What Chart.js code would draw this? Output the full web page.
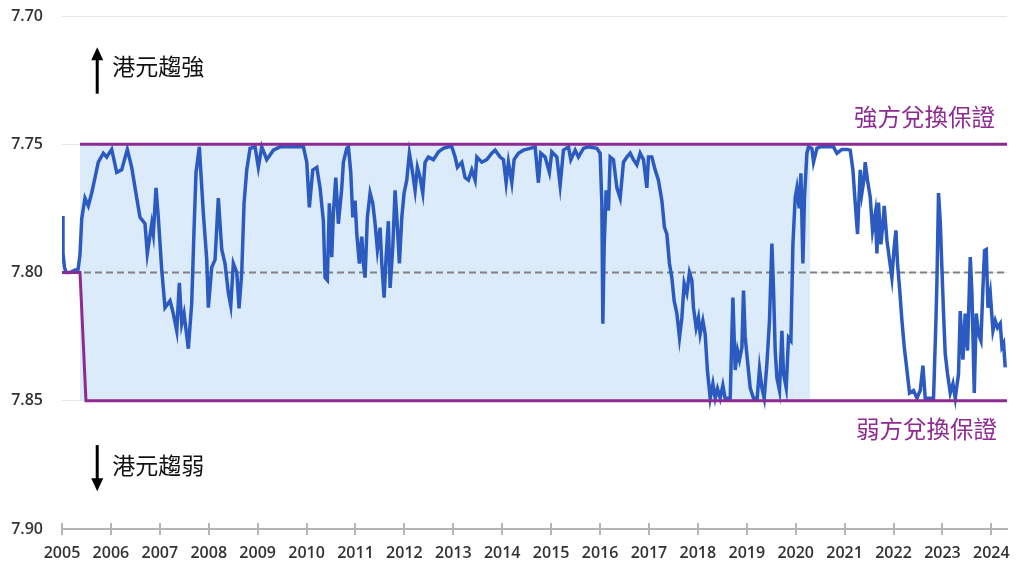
<!DOCTYPE html>
<html lang="zh-Hant">
<head>
<meta charset="utf-8">
<title>港元匯率與兌換保證</title>
<script src="https://cdn.jsdelivr.net/npm/chart.js@4.4.1/dist/chart.umd.min.js"></script>
<style>
    html, body { margin: 0; padding: 0; background: #ffffff; }
    #wrap { position: relative; width: 1016px; height: 570px; }
</style>
</head>
<body>
<div id="wrap"><canvas id="hkd-chart"></canvas></div>
<script>
// USD/HKD spot, [decimal year, rate]
const hkdSpot = [
    [2005.000, 7.778], [2005.020, 7.7926], [2005.051, 7.798], [2005.082, 7.800], [2005.164, 7.800],
    [2005.266, 7.799], [2005.327, 7.799], [2005.368, 7.793], [2005.403, 7.779], [2005.470, 7.771],
    [2005.538, 7.774], [2005.607, 7.769], [2005.675, 7.763], [2005.742, 7.757], [2005.845, 7.7535],
    [2005.914, 7.755], [2006.016, 7.752], [2006.119, 7.761], [2006.221, 7.760], [2006.335, 7.752],
    [2006.425, 7.759], [2006.528, 7.771], [2006.595, 7.7785], [2006.697, 7.781], [2006.744, 7.7926],
    [2006.834, 7.781], [2006.867, 7.785], [2006.922, 7.767], [2006.969, 7.7785], [2007.039, 7.799],
    [2007.106, 7.8137], [2007.209, 7.811], [2007.276, 7.816], [2007.346, 7.8227], [2007.399, 7.804],
    [2007.448, 7.820], [2007.495, 7.816], [2007.583, 7.8297], [2007.652, 7.812], [2007.699, 7.7836],
    [2007.740, 7.761], [2007.808, 7.751], [2007.836, 7.760], [2007.890, 7.777], [2007.959, 7.795],
    [2007.992, 7.8137], [2008.061, 7.798], [2008.129, 7.795], [2008.196, 7.771], [2008.266, 7.791],
    [2008.333, 7.7965], [2008.401, 7.808], [2008.450, 7.813], [2008.503, 7.7965], [2008.573, 7.800],
    [2008.620, 7.814], [2008.675, 7.800], [2008.722, 7.773], [2008.777, 7.760], [2008.845, 7.7516],
    [2008.947, 7.751], [2009.014, 7.759], [2009.084, 7.751], [2009.186, 7.756], [2009.321, 7.7523],
    [2009.458, 7.751], [2009.663, 7.751], [2009.935, 7.751], [2010.004, 7.757], [2010.057, 7.7746],
    [2010.127, 7.760], [2010.209, 7.759], [2010.276, 7.767], [2010.344, 7.780], [2010.378, 7.802],
    [2010.425, 7.803], [2010.466, 7.773], [2010.515, 7.794], [2010.548, 7.777], [2010.597, 7.763],
    [2010.650, 7.781], [2010.720, 7.767], [2010.753, 7.757], [2010.822, 7.7516], [2010.855, 7.751],
    [2010.904, 7.761], [2010.945, 7.7785], [2010.992, 7.772], [2011.027, 7.785], [2011.080, 7.7965],
    [2011.129, 7.786], [2011.162, 7.7965], [2011.196, 7.802], [2011.243, 7.7785], [2011.299, 7.769],
    [2011.354, 7.773], [2011.401, 7.781], [2011.448, 7.791], [2011.503, 7.7825], [2011.538, 7.7965],
    [2011.585, 7.8098], [2011.626, 7.794], [2011.673, 7.780], [2011.708, 7.806], [2011.763, 7.790],
    [2011.810, 7.768], [2011.845, 7.7785], [2011.898, 7.7965], [2011.947, 7.7785], [2011.994, 7.769],
    [2012.049, 7.764], [2012.102, 7.7535], [2012.151, 7.759], [2012.219, 7.768], [2012.266, 7.759],
    [2012.321, 7.763], [2012.376, 7.769], [2012.423, 7.757], [2012.491, 7.755], [2012.593, 7.756],
    [2012.695, 7.753], [2012.798, 7.7516], [2012.900, 7.751], [2012.969, 7.751], [2013.037, 7.755],
    [2013.084, 7.759], [2013.174, 7.757], [2013.241, 7.763], [2013.309, 7.764], [2013.378, 7.760],
    [2013.446, 7.764], [2013.481, 7.755], [2013.583, 7.757], [2013.685, 7.756], [2013.787, 7.7535],
    [2013.855, 7.7523], [2013.957, 7.755], [2014.025, 7.756], [2014.080, 7.765], [2014.127, 7.757],
    [2014.196, 7.765], [2014.243, 7.756], [2014.331, 7.7535], [2014.434, 7.7523], [2014.571, 7.7516],
    [2014.673, 7.751], [2014.740, 7.765], [2014.789, 7.7535], [2014.877, 7.755], [2014.965, 7.761],
    [2015.014, 7.753], [2015.117, 7.755], [2015.184, 7.766], [2015.252, 7.7523], [2015.354, 7.751],
    [2015.403, 7.756], [2015.491, 7.7523], [2015.558, 7.755], [2015.661, 7.7516], [2015.763, 7.751],
    [2015.935, 7.7516], [2016.002, 7.7535], [2016.037, 7.773], [2016.057, 7.820], [2016.084, 7.790],
    [2016.125, 7.768], [2016.172, 7.7758], [2016.207, 7.755], [2016.274, 7.756], [2016.344, 7.767],
    [2016.411, 7.771], [2016.479, 7.757], [2016.548, 7.755], [2016.616, 7.7535], [2016.683, 7.756],
    [2016.753, 7.758], [2016.820, 7.7535], [2016.888, 7.756], [2016.957, 7.767], [2016.990, 7.755],
    [2017.059, 7.755], [2017.127, 7.760], [2017.194, 7.764], [2017.264, 7.772], [2017.317, 7.7824],
    [2017.366, 7.785], [2017.419, 7.7965], [2017.468, 7.802], [2017.515, 7.811], [2017.571, 7.816],
    [2017.624, 7.8254], [2017.673, 7.8176], [2017.720, 7.8043], [2017.775, 7.808], [2017.828, 7.800],
    [2017.877, 7.803], [2017.910, 7.8137], [2017.965, 7.8215], [2018.012, 7.8176], [2018.047, 7.824],
    [2018.102, 7.8188], [2018.149, 7.824], [2018.196, 7.8383], [2018.252, 7.849], [2018.307, 7.8434],
    [2018.354, 7.849], [2018.401, 7.8453], [2018.456, 7.849], [2018.511, 7.844], [2018.558, 7.849],
    [2018.661, 7.849], [2018.716, 7.8098], [2018.763, 7.838], [2018.810, 7.8305], [2018.851, 7.834],
    [2018.900, 7.8293], [2018.933, 7.807], [2018.967, 7.825], [2019.014, 7.8344], [2019.070, 7.845],
    [2019.137, 7.849], [2019.213, 7.849], [2019.260, 7.8375], [2019.309, 7.845], [2019.356, 7.849],
    [2019.411, 7.8356], [2019.464, 7.8188], [2019.513, 7.7887], [2019.546, 7.806], [2019.581, 7.8305],
    [2019.616, 7.841], [2019.669, 7.846], [2019.718, 7.8227], [2019.751, 7.8395], [2019.806, 7.845],
    [2019.853, 7.8254], [2019.902, 7.8266], [2019.943, 7.789], [2019.990, 7.7707], [2020.025, 7.767],
    [2020.072, 7.775], [2020.107, 7.7613], [2020.147, 7.7965], [2020.180, 7.7707], [2020.229, 7.7535],
    [2020.262, 7.751], [2020.331, 7.7516], [2020.364, 7.757], [2020.434, 7.7516], [2020.501, 7.751],
    [2020.638, 7.751], [2020.773, 7.751], [2020.843, 7.7535], [2020.945, 7.752], [2021.047, 7.752],
    [2021.115, 7.7523], [2021.170, 7.760], [2021.217, 7.773], [2021.264, 7.785], [2021.319, 7.760],
    [2021.354, 7.769], [2021.401, 7.763], [2021.421, 7.757], [2021.468, 7.764], [2021.524, 7.7707],
    [2021.571, 7.7836], [2021.626, 7.777], [2021.661, 7.7926], [2021.693, 7.7727], [2021.742, 7.789],
    [2021.783, 7.781], [2021.810, 7.774], [2021.865, 7.7875], [2021.918, 7.795], [2021.967, 7.802],
    [2022.014, 7.790], [2022.049, 7.7836], [2022.082, 7.7965], [2022.123, 7.806], [2022.172, 7.8188],
    [2022.219, 7.829], [2022.274, 7.838], [2022.327, 7.847], [2022.409, 7.846], [2022.479, 7.849],
    [2022.546, 7.846], [2022.601, 7.8363], [2022.648, 7.849], [2022.751, 7.849], [2022.818, 7.849],
    [2022.867, 7.8188], [2022.888, 7.803], [2022.920, 7.769], [2022.955, 7.780], [2022.990, 7.7988],
    [2023.023, 7.816], [2023.057, 7.8317], [2023.104, 7.8395], [2023.160, 7.847], [2023.215, 7.8434],
    [2023.262, 7.849], [2023.329, 7.8395], [2023.364, 7.815], [2023.419, 7.834], [2023.466, 7.816],
    [2023.513, 7.8305], [2023.569, 7.794], [2023.603, 7.808], [2023.651, 7.847], [2023.691, 7.816],
    [2023.738, 7.824], [2023.787, 7.8266], [2023.828, 7.806], [2023.861, 7.7914], [2023.896, 7.791],
    [2023.931, 7.8137], [2023.978, 7.808], [2024.033, 7.8227], [2024.080, 7.8188], [2024.127, 7.8215],
    [2024.182, 7.8199], [2024.217, 7.829], [2024.250, 7.8277], [2024.284, 7.837]
];

// convertibility undertakings
const strongSide = [[2005.368, 7.75], [2024.32, 7.75]];
const weakSide = [[2005.0, 7.80], [2005.368, 7.80], [2005.49, 7.85], [2024.32, 7.85]];
const pegCentre = [[2005.0, 7.80], [2024.32, 7.80]];
// shaded period
const bandTop = [[2005.368, 7.75], [2020.30, 7.75]];
const bandBottom = [[2005.368, 7.85], [2020.30, 7.85]];

const yearTicks = [2005, 2006, 2007, 2008, 2009, 2010, 2011, 2012, 2013, 2014,
    2015, 2016, 2017, 2018, 2019, 2020, 2021, 2022, 2023, 2024];
const rateTicks = [7.70, 7.75, 7.80, 7.85, 7.90];

const PURPLE = '#8e2a91';
const CJK = '"Noto Sans CJK TC", "Noto Sans CJK SC", sans-serif';
const NUM = '"Open Sans", "DejaVu Sans", sans-serif';

const pts = arr => arr.map(p => ({ x: p[0], y: p[1] }));

function drawArrow(ctx, x, y0, y1) {
    // y0 = tail, y1 = tip
    const dir = y1 < y0 ? -1 : 1;
    ctx.save();
    ctx.strokeStyle = '#000';
    ctx.fillStyle = '#000';
    ctx.lineWidth = 3;
    ctx.beginPath();
    ctx.moveTo(x, y0);
    ctx.lineTo(x, y1 - dir * 10);
    ctx.stroke();
    ctx.beginPath();
    ctx.moveTo(x, y1);
    ctx.lineTo(x - 6, y1 - dir * 13);
    ctx.lineTo(x + 6, y1 - dir * 13);
    ctx.closePath();
    ctx.fill();
    ctx.restore();
}

const notes = {
    id: 'notes',
    afterDraw(chart) {
        const { ctx, chartArea, scales: { x, y } } = chart;
        ctx.save();

        // tick marks crossing the bottom axis
        ctx.strokeStyle = '#b5b5b5';
        ctx.lineWidth = 2;
        yearTicks.forEach(t => {
            const px = Math.round(x.getPixelForValue(t));
            ctx.beginPath();
            ctx.moveTo(px, chartArea.bottom - 6);
            ctx.lineTo(px, chartArea.bottom);
            ctx.stroke();
        });

        ctx.font = '23px ' + CJK;
        ctx.textBaseline = 'middle';

        // direction hints
        const ax = x.getPixelForValue(2005.72);
        drawArrow(ctx, ax, y.getPixelForValue(7.7303), y.getPixelForValue(7.7122));
        drawArrow(ctx, ax, y.getPixelForValue(7.8673), y.getPixelForValue(7.8853));
        ctx.fillStyle = '#111';
        ctx.textAlign = 'left';
        ctx.fillText('港元趨強', ax + 15, y.getPixelForValue(7.7195));
        ctx.fillText('港元趨弱', ax + 15, y.getPixelForValue(7.8753));

        // undertaking labels
        ctx.fillStyle = PURPLE;
        ctx.font = '23.5px ' + CJK;
        ctx.textAlign = 'right';
        ctx.fillText('強方兌換保證', chartArea.right - 12, y.getPixelForValue(7.7394));
        ctx.fillText('弱方兌換保證', chartArea.right - 10, y.getPixelForValue(7.8612));
        ctx.restore();
    }
};

new Chart(document.getElementById('hkd-chart'), {
    type: 'line',
    data: {
        datasets: [
            { data: pts(bandTop), borderWidth: 0, pointRadius: 0, fill: false, order: 5 },
            { data: pts(bandBottom), borderWidth: 0, pointRadius: 0, fill: '-1', backgroundColor: '#dbebf9', order: 5 },
            { data: pts(pegCentre), borderColor: '#808080', borderWidth: 2, borderDash: [7, 4], pointRadius: 0, order: 4 },
            { data: pts(hkdSpot), borderColor: '#2b5bc0', borderWidth: 3.5, pointRadius: 0, tension: 0, order: 3 },
            { data: pts(strongSide), borderColor: PURPLE, borderWidth: 3, pointRadius: 0, order: 1 },
            { data: pts(weakSide), borderColor: PURPLE, borderWidth: 3, pointRadius: 0, order: 1 }
        ]
    },
    options: {
        responsive: true,
        maintainAspectRatio: false,
        animation: false,
        layout: { padding: { top: 16, right: 9, bottom: 0, left: 0 } },
        plugins: { legend: { display: false }, tooltip: { enabled: false } },
        scales: {
            x: {
                type: 'linear',
                min: 2005,
                max: 2024.32,
                afterBuildTicks: s => { s.ticks = yearTicks.map(v => ({ value: v })); },
                afterFit: s => { s.height = 41; s.paddingLeft = 0; s.paddingRight = 0; },
                grid: { drawOnChartArea: false, drawTicks: true, tickLength: 6, color: '#b5b5b5', lineWidth: 2 },
                border: { color: '#b5b5b5', width: 2 },
                ticks: { color: '#333', padding: 9, maxRotation: 0, autoSkip: false,
                    font: { family: NUM, size: 16, weight: '600' }, callback: v => String(v) }
            },
            y: {
                type: 'linear',
                reverse: true,
                min: 7.70,
                max: 7.90,
                afterBuildTicks: s => { s.ticks = rateTicks.map(v => ({ value: v })); },
                afterFit: s => { s.width = 62; s.paddingTop = 0; s.paddingBottom = 0; },
                grid: { color: '#e6e6e6', lineWidth: 1, drawTicks: false },
                border: { display: false },
                ticks: { color: '#333', padding: 19,
                    font: { family: NUM, size: 16, weight: '600' }, callback: v => v.toFixed(2) }
            }
        }
    },
    plugins: [notes]
});
</script>
</body>
</html>
